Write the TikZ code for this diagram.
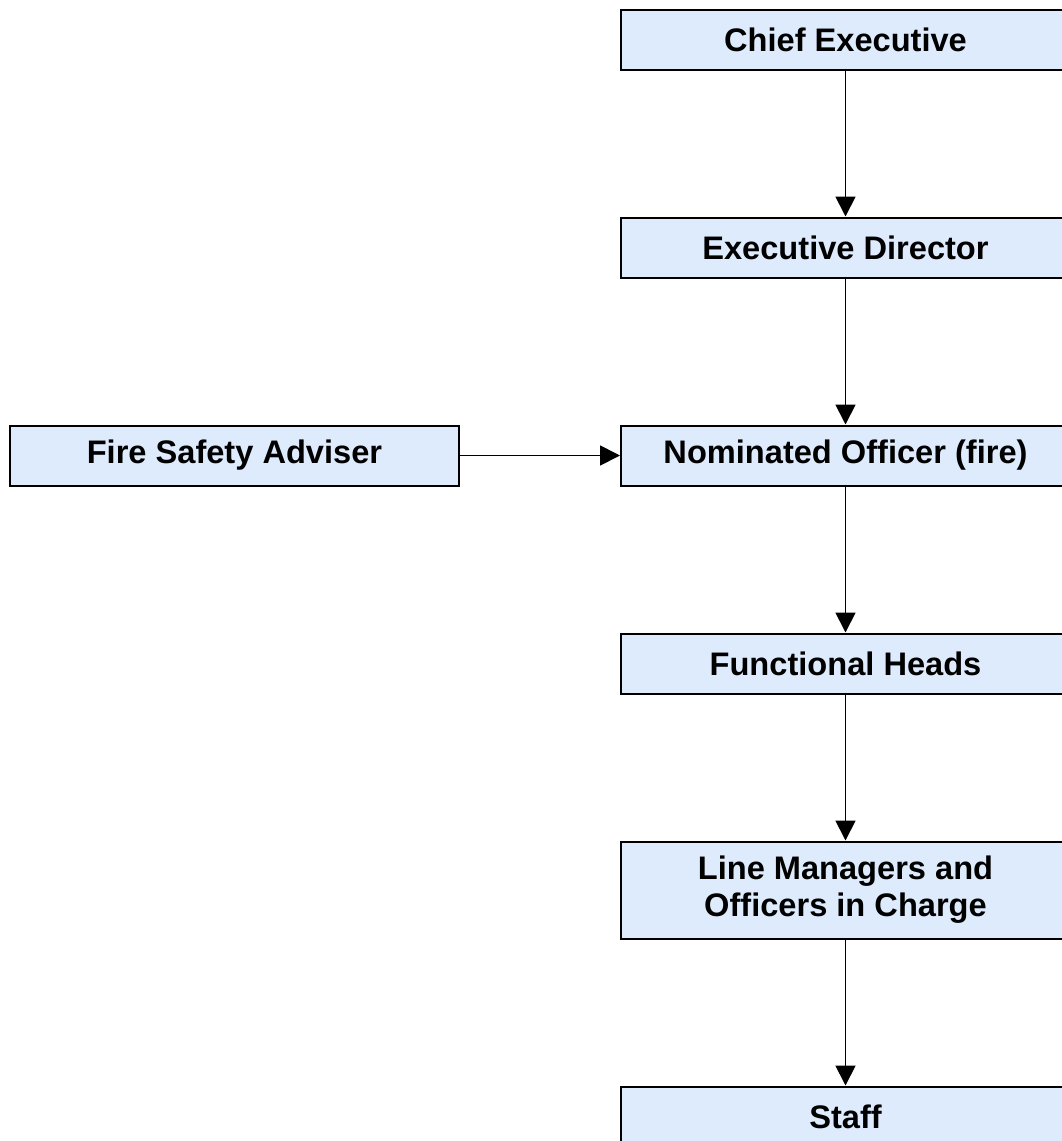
\documentclass[tikz,border=0pt]{standalone}
\usepackage{fontspec}
\setmainfont{Liberation Sans}
\usetikzlibrary{arrows.meta, positioning}

\definecolor{boxblue}{RGB}{221,235,252}

\begin{document}
\begin{tikzpicture}[x=0.5pt, y=-0.5pt, >={Triangle[length=10pt, width=10pt]},
    node distance=73pt,
    post/.style={draw, fill=boxblue, line width=1pt, minimum width=224.5pt, minimum height=30pt,
        align=center, font=\fontsize{16.3}{18.5}\selectfont\bfseries},
    link/.style={->, line width=0.9pt}]
    \useasboundingbox (0,0) rectangle (1061,1141);

    \node[post] at (845.5,39.5) (chief) {Chief Executive};
    \node[post, below=of chief] (director) {Executive Director};
    \node[post, below=of director] (officer) {Nominated Officer (fire)};
    \node[post, below=of officer] (heads) {Functional Heads};
    \node[post, below=of heads, minimum height=48.5pt] (managers) {Line Managers and\\Officers in Charge};
    \node[post, below=of managers] (staff) {Staff};

    \node[post, left=80pt of officer] (adviser) {Fire Safety Adviser};

    \draw[link] (chief) -- (director);
    \draw[link] (director) -- (officer);
    \draw[link] (officer) -- (heads);
    \draw[link] (heads) -- (managers);
    \draw[link] (managers) -- (staff);
    \draw[link] (adviser) -- (officer);
\end{tikzpicture}
\end{document}
